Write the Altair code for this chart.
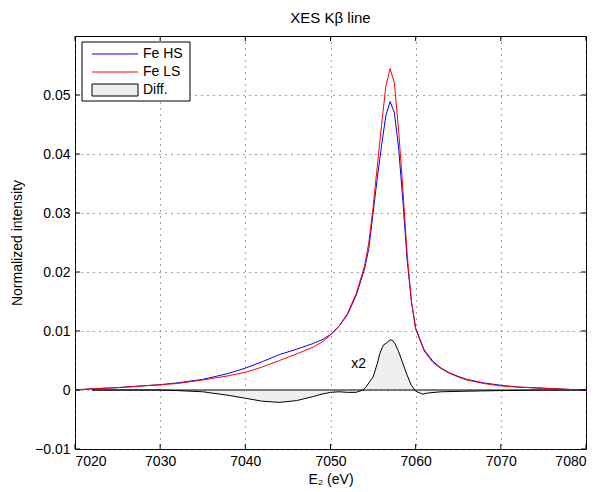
import altair as alt
import pandas as pd

# ---------------- data ----------------
energy = [7020, 7022, 7025, 7028, 7030, 7032, 7035, 7038, 7040, 7042, 7044, 7046,
          7048, 7049, 7050, 7051, 7052, 7053, 7054, 7054.5, 7055, 7055.5, 7056,
          7056.5, 7057, 7057.5, 7058, 7058.5, 7059, 7059.5, 7060, 7061, 7062, 7063,
          7064, 7065, 7066, 7068, 7070, 7072, 7075, 7078, 7080]
fe_hs = [0.0000, 0.0002, 0.0004, 0.0007, 0.0009, 0.0012, 0.0018, 0.0028, 0.0037,
         0.0048, 0.0060, 0.0069, 0.0079, 0.0085, 0.0094, 0.0108, 0.0128, 0.0160,
         0.0205, 0.0240, 0.0300, 0.0360, 0.0415, 0.0465, 0.0489, 0.0470, 0.0410,
         0.0320, 0.0220, 0.0150, 0.0105, 0.0068, 0.0049, 0.0037, 0.0029, 0.0023,
         0.0018, 0.0012, 0.0008, 0.0005, 0.0003, 0.0001, 0.0000]
fe_ls = [0.0000, 0.0002, 0.0004, 0.0007, 0.0009, 0.0011, 0.0017, 0.0024, 0.0030,
         0.0039, 0.0050, 0.0061, 0.0073, 0.0081, 0.0093, 0.0108, 0.0130, 0.0163,
         0.0210, 0.0250, 0.0310, 0.0380, 0.0450, 0.0515, 0.0545, 0.0520, 0.0440,
         0.0340, 0.0230, 0.0150, 0.0103, 0.0066, 0.0047, 0.0036, 0.0028, 0.0022,
         0.0017, 0.0011, 0.0007, 0.0005, 0.0003, 0.0001, 0.0000]
diff_energy = [7022, 7025, 7028, 7030, 7032, 7035, 7038, 7040, 7042, 7044, 7046,
               7048, 7049, 7050, 7051, 7052, 7053, 7053.8, 7054.2, 7055, 7055.5,
               7055.8, 7056.2, 7056.6, 7057, 7057.3, 7057.6, 7058, 7058.5, 7059,
               7059.5, 7060, 7060.8, 7061.5, 7063, 7066, 7070, 7075, 7080]
diff_x2 = [0.0000, 0.0000, 0.0000, 0.0000, -0.0001, -0.0003, -0.0009, -0.0014,
           -0.0019, -0.0021, -0.0018, -0.0011, -0.0007, -0.0004, -0.0003, -0.0004,
           -0.0004, 0.0000, 0.0006, 0.0022, 0.0045, 0.0062, 0.0076, 0.0080, 0.0085,
           0.0084, 0.0078, 0.0065, 0.0045, 0.0025, 0.0008, -0.0002, -0.0007,
           -0.0005, -0.0003, -0.0002, -0.0001, 0.0000, 0.0000]
x_ticks = [7020, 7030, 7040, 7050, 7060, 7070, 7080]
y_ticks = [-0.01, 0.0, 0.01, 0.02, 0.03, 0.04, 0.05]
legend_labels = ["Fe HS", "Fe LS", "Diff."]
series_colors = ["#0000ff", "#ff0000"]
annot_text = ["x2"]
annot_x = [7053.3]
annot_y = [0.0044]

# ---------------- layout ----------------
W, H = 511, 413
FONT = "Liberation Sans"
FS = 14

xs = alt.Scale(domain=[7020, 7080], nice=False, zero=False)
ys = alt.Scale(domain=[-0.01, 0.06], nice=False, zero=False)

x_axis = alt.Axis(values=x_ticks, format="d", title="E₂ (eV)", grid=True,
                  gridDash=[1, 5], gridColor="#444", gridWidth=1, tickSize=0,
                  domain=False, labelFont=FONT, labelFontSize=FS, labelColor="black",
                  labelPadding=5, titleFont=FONT, titleFontSize=FS,
                  titleFontWeight="normal", titleColor="black", titlePadding=4)
y_axis = alt.Axis(values=y_ticks, format=".2~f", title="Normalized intensity",
                  grid=True, gridDash=[1, 5], gridColor="#444", gridWidth=1,
                  tickSize=0, domain=False, labelFont=FONT, labelFontSize=FS,
                  labelColor="black", labelPadding=5, titleFont=FONT,
                  titleFontSize=FS, titleFontWeight="normal", titleColor="black",
                  titlePadding=10)

curves = pd.DataFrame({"E": energy, "Fe HS": fe_hs, "Fe LS": fe_ls})
diff_df = pd.DataFrame({"E": diff_energy, "I": diff_x2})

X = alt.X("E:Q", scale=xs, axis=x_axis)

diff_area = alt.Chart(diff_df).mark_area(
    fill="#efefef", stroke="black", strokeWidth=1
).encode(x=X, y=alt.Y("I:Q", scale=ys, axis=y_axis))

hs_line = alt.Chart(curves).mark_line(color=series_colors[0], strokeWidth=1).encode(
    x=X, y=alt.Y("Fe HS:Q", scale=ys, axis=y_axis))
ls_line = alt.Chart(curves).mark_line(color=series_colors[1], strokeWidth=1).encode(
    x=X, y=alt.Y("Fe LS:Q", scale=ys, axis=y_axis))

annot = alt.Chart(pd.DataFrame({"E": annot_x, "I": annot_y, "t": annot_text})).mark_text(
    font=FONT, fontSize=FS, color="black"
).encode(x=X, y=alt.Y("I:Q", scale=ys, axis=y_axis), text="t:N")

# inward ticks on all four sides
xt = pd.DataFrame({"E": x_ticks})
yt = pd.DataFrame({"I": y_ticks})
tick_style = dict(color="black", strokeWidth=1)
bottom_ticks = alt.Chart(xt).mark_rule(**tick_style).encode(
    x=X, y=alt.value(H), y2=alt.value(H - 5))
top_ticks = alt.Chart(xt).mark_rule(**tick_style).encode(
    x=X, y=alt.value(0), y2=alt.value(5))
left_ticks = alt.Chart(yt).mark_rule(**tick_style).encode(
    y=alt.Y("I:Q", scale=ys, axis=y_axis), x=alt.value(0), x2=alt.value(5))
right_ticks = alt.Chart(yt).mark_rule(**tick_style).encode(
    y=alt.Y("I:Q", scale=ys, axis=y_axis), x=alt.value(W), x2=alt.value(W - 5))

# legend (box, samples and labels)
leg_df = pd.DataFrame({"label": legend_labels})
leg_box = alt.Chart(leg_df.head(1)).mark_rect(fill="white", stroke="black",
                                              strokeWidth=1).encode(
    x=alt.value(7), x2=alt.value(115), y=alt.value(6), y2=alt.value(65))
leg_hs = alt.Chart(leg_df.iloc[[0]]).mark_rule(
    stroke=series_colors[0], color=series_colors[0], strokeWidth=1).encode(
    x=alt.value(17), x2=alt.value(63), y=alt.value(18))
leg_ls = alt.Chart(leg_df.iloc[[1]]).mark_rule(
    stroke=series_colors[1], color=series_colors[1], strokeWidth=1).encode(
    x=alt.value(17), x2=alt.value(63), y=alt.value(36))
leg_diff = alt.Chart(leg_df.iloc[[2]]).mark_rect(
    fill="#efefef", stroke="black", strokeWidth=1).encode(
    x=alt.value(17), x2=alt.value(63), y=alt.value(48), y2=alt.value(60))
leg_texts = []
for i, yy in enumerate([18, 36, 54]):
    leg_texts.append(alt.Chart(leg_df.iloc[[i]]).mark_text(
        font=FONT, fontSize=FS, color="black", align="left",
        baseline="middle").encode(x=alt.value(68), y=alt.value(yy),
                                  text="label:N"))

chart = alt.layer(
    diff_area, hs_line, ls_line, annot,
    bottom_ticks, top_ticks, left_ticks, right_ticks,
    leg_box, leg_hs, leg_ls, leg_diff, *leg_texts
).properties(
    width=W, height=H,
    title=alt.TitleParams("XES Kβ line", font=FONT, fontSize=15, fontWeight="normal",
                          color="black", anchor="middle", offset=10),
    autosize=alt.AutoSizeParams(type="none"),
    padding={"left": 75, "top": 36, "right": 16, "bottom": 43},
    background="white",
).configure_view(stroke="black", strokeWidth=1)

chart.save("out.html", embed_options={"renderer": "svg", "actions": False})
